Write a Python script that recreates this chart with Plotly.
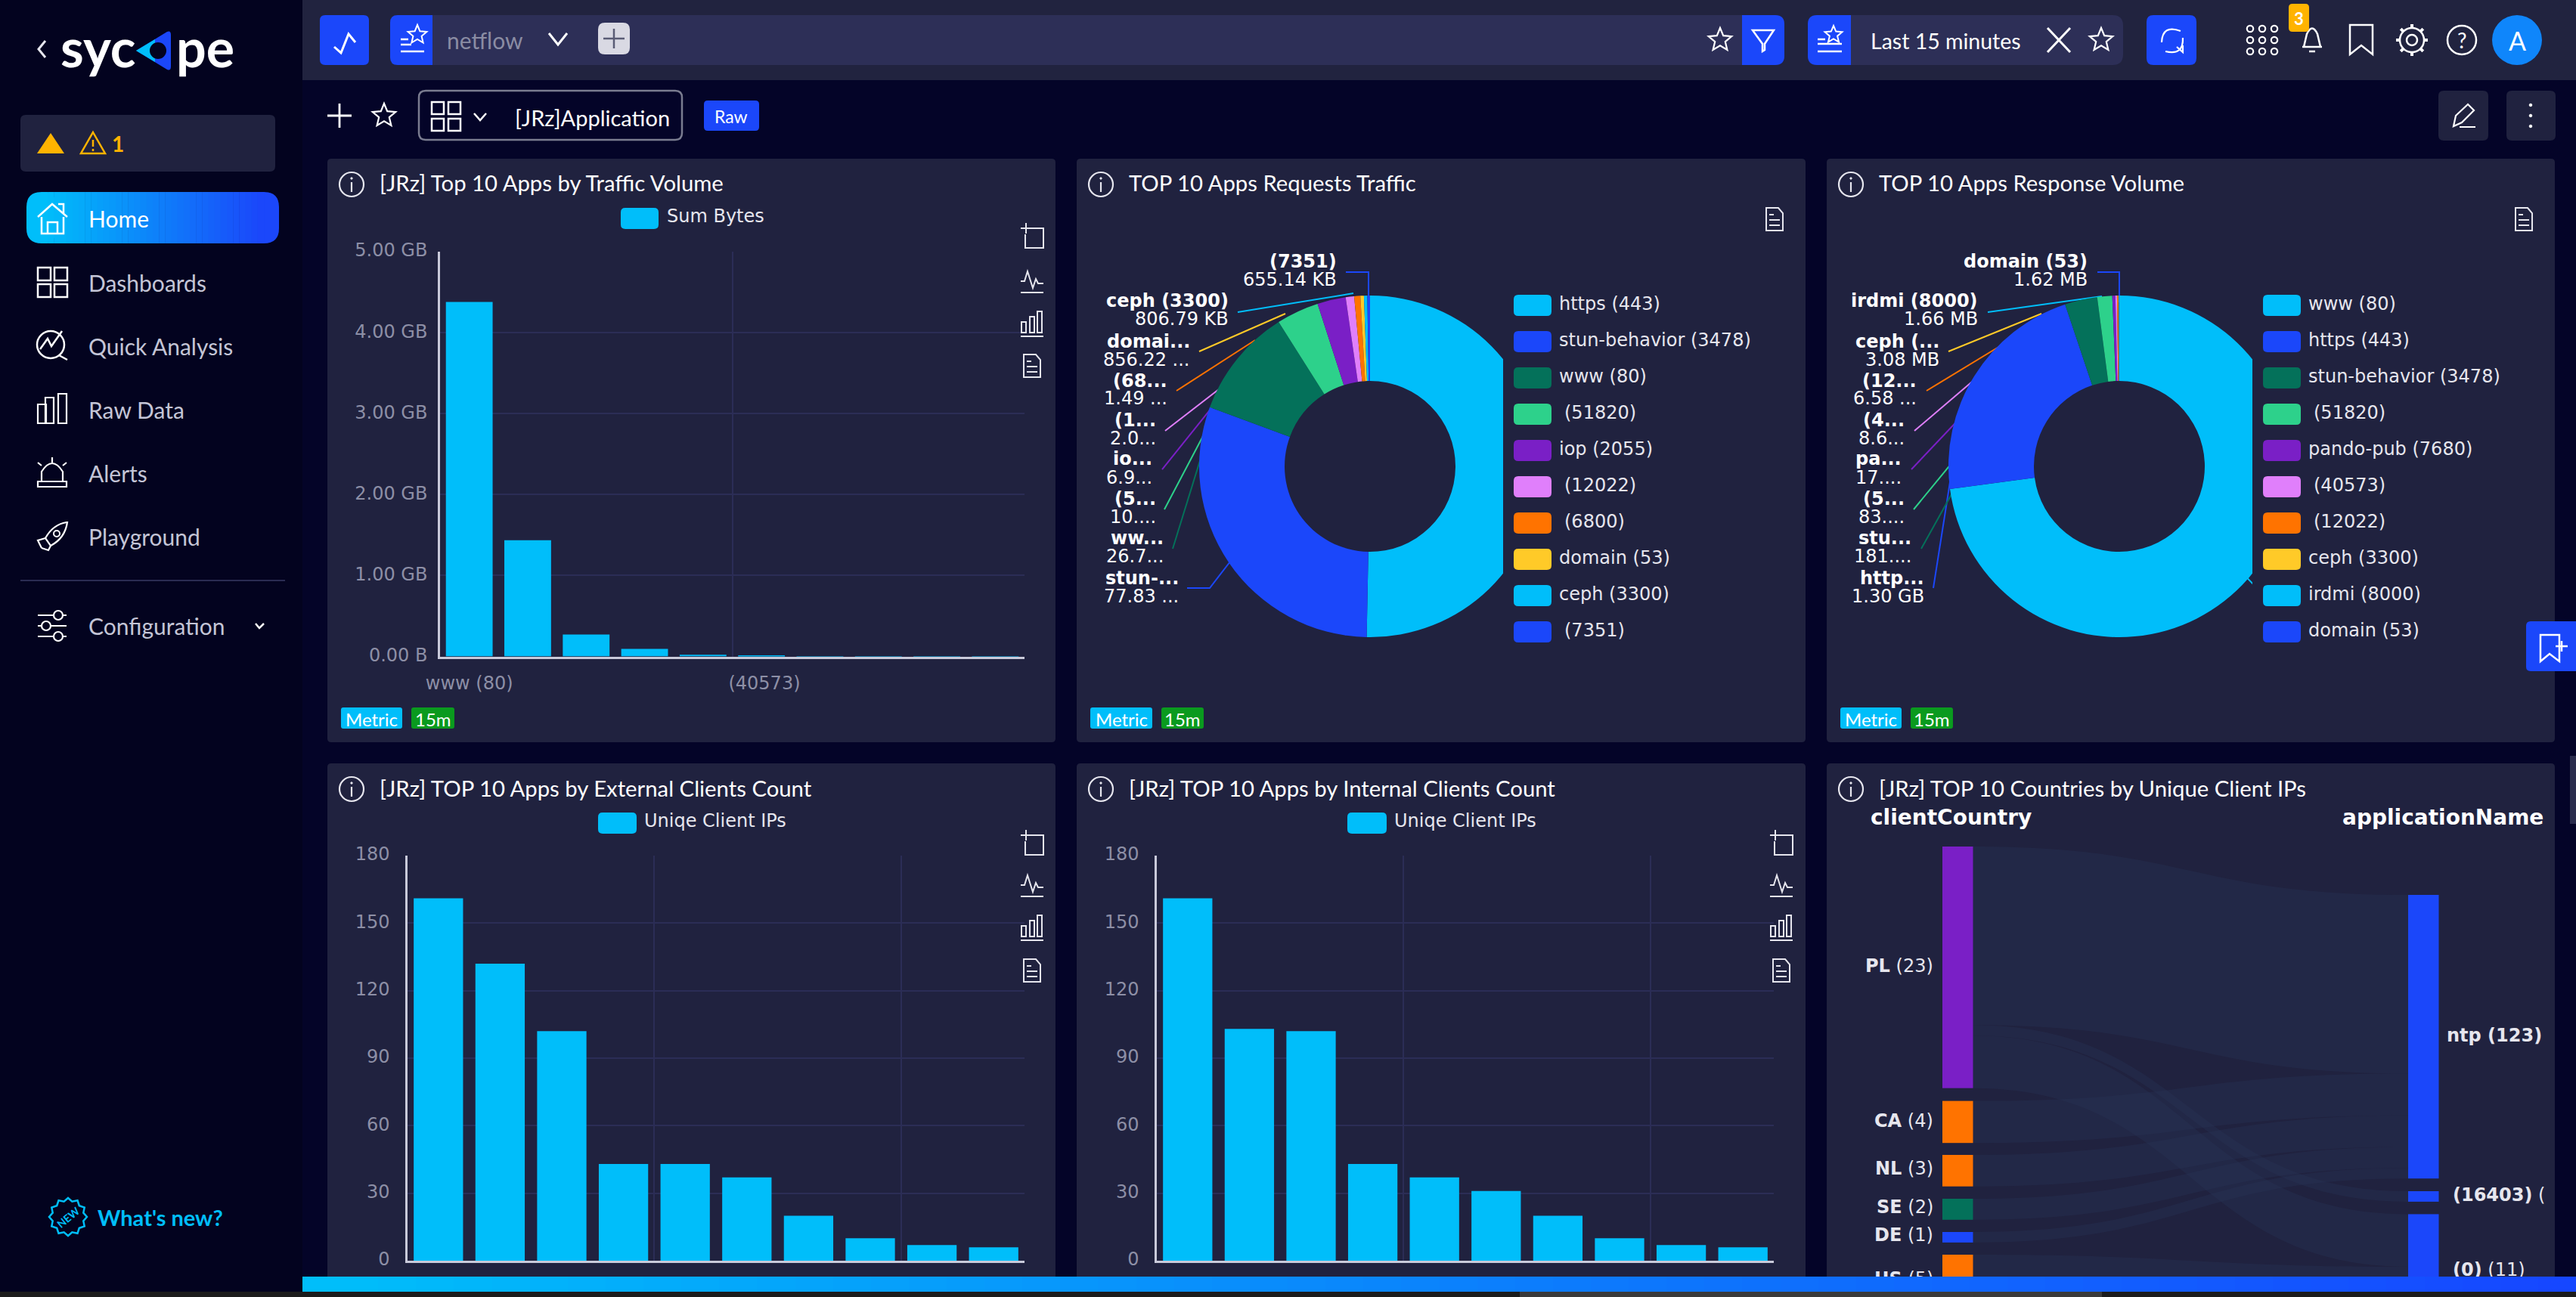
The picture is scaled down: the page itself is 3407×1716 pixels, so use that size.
import math
import re
import plotly.graph_objects as go

W, H = 3407, 1716

# --- colours ---
BG_SIDE = "#03031F"
BG_MAIN = "#040428"
BG_PANEL = "#20223F"
BG_INPUT = "#2D2F57"
CYAN = "#00BEFA"
BLUE = "#1B47FA"
GREEN = "#04715A"
MINT = "#2DD18B"
PURPLE = "#7A1FC6"
PINK = "#E07FFB"
ORANGE = "#FF7300"
YELLOW = "#FFCA28"
AMBER = "#FFB300"
GRID = "#2B2D56"
AXIS = "#C9CADA"
TICK = "#8D8FA6"
ICON = "#E6E6EE"
SLICE_COLORS = [CYAN, BLUE, GREEN, MINT, PURPLE, PINK, ORANGE, YELLOW, CYAN, BLUE]

UI_FONT = "Lato"
CHART_FONT = "DejaVu Sans"

# --- data ---
traffic_apps = ["www (80)", "https (443)", "stun-behavior (3478)", " (51820)", "pando-pub (7680)",
                " (40573)", " (12022)", "ceph (3300)", "irdmi (8000)", "domain (53)"]
traffic_gb = [4.38, 1.435, 0.27, 0.094, 0.02, 0.006, 0.004, 0.003, 0.002, 0.001]
traffic_ticks = [0, 1, 2, 3, 4, 5]
traffic_ticktext = ["0.00 B", "1.00 GB", "2.00 GB", "3.00 GB", "4.00 GB", "5.00 GB"]

request_apps = ["https (443)", "stun-behavior (3478)", "www (80)", " (51820)", "iop (2055)",
                " (12022)", " (6800)", "domain (53)", "ceph (3300)", " (7351)"]
request_mb = [129.2, 77.83, 26.7, 10.3, 6.9, 2.05, 1.49, 0.856, 0.807, 0.655]
request_short = [("stun-...", "77.83 ..."), ("ww...", "26.7..."), ("(5...", "10...."), ("io...", "6.9..."),
                 ("(1...", "2.0..."), ("(68...", "1.49 ..."), ("domai...", "856.22 ..."),
                 ("ceph (3300)", "806.79 KB"), ("(7351)", "655.14 KB")]

response_apps = ["www (80)", "https (443)", "stun-behavior (3478)", " (51820)", "pando-pub (7680)",
                 " (40573)", " (12022)", "ceph (3300)", "irdmi (8000)", "domain (53)"]
response_mb = [4310, 1300, 181.5, 83.5, 17.5, 8.6, 6.58, 3.08, 1.66, 1.62]
response_short = [("http...", "1.30 GB"), ("stu...", "181...."), ("(5...", "83...."), ("pa...", "17...."),
                  ("(4...", "8.6..."), ("(12...", "6.58 ..."), ("ceph (...", "3.08 MB"),
                  ("irdmi (8000)", "1.66 MB"), ("domain (53)", "1.62 MB")]

client_ticks = [0, 30, 60, 90, 120, 150, 180]
external_clients = [161, 132, 102, 43, 43, 37, 20, 10, 7, 6]
internal_clients = [161, 103, 102, 43, 37, 31, 20, 10, 7, 6]

country_nodes = ["PL", "CA", "NL", "SE", "DE", "US", "GB", "ntp (123)", "(16403)", "(0)"]
node_colors = [PURPLE, ORANGE, ORANGE, GREEN, BLUE, ORANGE, BLUE, BLUE, BLUE, BLUE]
link_source = [0, 0, 0, 1, 2, 3, 4, 5, 6]
link_target = [7, 8, 9, 7, 7, 7, 7, 9, 9]
link_value = [17, 1, 5, 4, 3, 2, 1, 5, 1]


# --- pixel helpers: everything on the page is placed in screenshot pixels ---
shapes = []
annots = []


def fx(x):
    return x / W


def fy(y):
    return 1 - y / H


def conv(d):
    i = [0]

    def rep(m):
        v = float(m.group(0))
        i[0] += 1
        return f"{fx(v):.5f}" if i[0] % 2 == 1 else f"{fy(v):.5f}"

    return re.sub(r"-?\d+\.?\d*", rep, d)


def path(d, fill=None, line=None, width=2.5, layer="above"):
    shapes.append(dict(type="path", xref="paper", yref="paper", path=conv(d), layer=layer,
                       fillcolor=fill or "rgba(0,0,0,0)",
                       line=dict(color=line or "rgba(0,0,0,0)", width=width if line else 0)))


def rect(x0, y0, x1, y1, fill, layer="below"):
    shapes.append(dict(type="rect", xref="paper", yref="paper", x0=fx(x0), x1=fx(x1), y0=fy(y0), y1=fy(y1),
                       fillcolor=fill, line=dict(width=0), layer=layer))


def rr_path(x0, y0, x1, y1, r):
    return (f"M {x0+r} {y0} L {x1-r} {y0} Q {x1} {y0} {x1} {y0+r} L {x1} {y1-r} Q {x1} {y1} {x1-r} {y1} "
            f"L {x0+r} {y1} Q {x0} {y1} {x0} {y1-r} L {x0} {y0+r} Q {x0} {y0} {x0+r} {y0} Z")


def rrect(x0, y0, x1, y1, r, fill=None, line=None, width=2.5, layer="above"):
    path(rr_path(x0, y0, x1, y1, r), fill, line, width, layer)


def circle(cx, cy, r, fill=None, line=ICON, width=2.5):
    shapes.append(dict(type="circle", xref="paper", yref="paper", x0=fx(cx-r), x1=fx(cx+r), y0=fy(cy+r), y1=fy(cy-r),
                       fillcolor=fill or "rgba(0,0,0,0)", line=dict(color=line or "rgba(0,0,0,0)", width=width if line else 0),
                       layer="above"))


def text(x, y, s, size=24, color="white", anchor="left", font=CHART_FONT, angle=0):
    annots.append(dict(xref="paper", yref="paper", x=fx(x), y=fy(y), text=s, showarrow=False, xanchor=anchor,
                       yanchor="middle", borderpad=0, textangle=angle, font=dict(size=size, color=color, family=font)))


def lerp(c0, c1, t):
    a = [int(c0[i:i+2], 16) for i in (1, 3, 5)]
    b = [int(c1[i:i+2], 16) for i in (1, 3, 5)]
    return "rgb(%d,%d,%d)" % tuple(round(p + (q - p) * t) for p, q in zip(a, b))


def star(cx, cy, r, line=ICON, width=2.5):
    pts = []
    for k in range(10):
        a = -math.pi / 2 + k * math.pi / 5
        rad = r if k % 2 == 0 else r * 0.45
        pts.append((cx + rad * math.cos(a), cy + rad * math.sin(a)))
    path("M " + " L ".join(f"{p:.1f} {q:.1f}" for p, q in pts) + " Z", None, line, width)


def info_icon(cx, cy):
    circle(cx, cy, 16, None, ICON, 2.2)
    path(f"M {cx} {cy-3} L {cx} {cy+10}", None, ICON, 2.2)
    circle(cx, cy-8, 1.2, ICON, ICON, 1)


def doc_icon(cx, cy):
    path(f"M {cx-11} {cy-15} L {cx+5} {cy-15} L {cx+11} {cy-8} L {cx+11} {cy+15} L {cx-11} {cy+15} Z", None, ICON, 2)
    for dy, x1 in ((-6, cx-1), (1, cx+7), (8, cx+7)):
        path(f"M {cx-7} {cy+dy} L {x1} {cy+dy}", None, ICON, 2)


def toolbox(cx, ys):
    y = ys[0]
    path(f"M {cx-4} {y-13} L {cx+15} {y-13} L {cx+15} {y+13} L {cx-9} {y+13} L {cx-9} {y-5}", None, ICON, 2)
    path(f"M {cx-15} {y-13} L {cx-1} {y-13} M {cx-8} {y-20} L {cx-8} {y-6}", None, ICON, 2)
    y = ys[1]
    path(f"M {cx-15} {y} L {cx-10} {y} L {cx-6} {y-13} L {cx+1} {y+9} L {cx+5} {y-3} L {cx+8} {y+3} L {cx+15} {y+3}", None, ICON, 2)
    path(f"M {cx-15} {y+15} L {cx+15} {y+15}", None, ICON, 2)
    y = ys[2]
    for x0, top in ((-14, -2), (-3, -9), (7, -16)):
        path(f"M {cx+x0} {y+top} L {cx+x0+6} {y+top} L {cx+x0+6} {y+12} L {cx+x0} {y+12} Z", None, ICON, 2)
    path(f"M {cx-15} {y+17} L {cx+15} {y+17}", None, ICON, 2)
    doc_icon(cx, ys[3])


def badges(x0, x1, x2, x3, y0=936, y1=964):
    rrect(x0, y0, x1, y1, 3, CYAN)
    text((x0+x1)/2, (y0+y1)/2+1, "Metric", 24, "white", "center", UI_FONT)
    rrect(x2, y0, x3, y1, 3, "#0A9A1E")
    text((x2+x3)/2, (y0+y1)/2+1, "15m", 24, "white", "center", UI_FONT)


# --- page furniture ---
rect(0, 0, 400, H, BG_SIDE)
rect(400, 0, W, 106, "#21233F")
for x0, y0, x1, y1 in [(433, 210, 1396, 982), (1424, 210, 2388, 982), (2416, 210, 3379, 982),
                       (433, 1010, 1396, 1716), (1424, 1010, 2388, 1716), (2416, 1010, 3379, 1716)]:
    rrect(x0, y0, x1, y1, 5, BG_PANEL, layer="below")
rect(3399, 1000, 3407, 1090, "#2A2C4D")

# sidebar
path("M 60 54 L 51 65 L 60 76", None, ICON, 3)
text(79, 62, "<b>syc</b>", 70, "white", "left", UI_FONT)
text(232, 62, "<b>pe</b>", 70, "white", "left", UI_FONT)
path("M 180 67 L 221 42 Q 226 40 226 46 L 226 88 Q 226 94 221 92 Z", BLUE)
path("M 180 67 L 205 52 L 205 82 Z", CYAN)
circle(209, 67, 11, BG_SIDE, None)
rrect(27, 152, 364, 227, 7, BG_PANEL)
path("M 67 176 L 85 203 L 49 203 Z", AMBER)
path("M 123 175 L 139 203 L 107 203 Z", None, AMBER, 2.5)
path("M 123 185 L 123 194 M 123 197 L 123 200", None, AMBER, 2.5)
text(147, 190, "<b>1</b>", 28, AMBER, "left", UI_FONT)
# Home pill with a horizontal gradient
rrect(35, 254, 75, 322, 20, CYAN)
rrect(329, 254, 369, 322, 20, BLUE)
for k in range(36):
    x0 = 55 + k * (349 - 55) / 36
    rect(x0, 254, x0 + (349 - 55) / 36 + 0.5, 322, lerp(CYAN, BLUE, k / 35), layer="above")
NAV = [("Home", 289, "white"), ("Dashboards", 374, "#C4C5D6"), ("Quick Analysis", 458, "#C4C5D6"),
       ("Raw Data", 542, "#C4C5D6"), ("Alerts", 626, "#C4C5D6"), ("Playground", 710, "#C4C5D6"),
       ("Configuration", 828, "#C4C5D6")]
for label, y, col in NAV:
    text(116, y, label, 30, col, "left", UI_FONT)
path("M 50 287 L 69 270 L 89 287 M 77 270 L 84 270 L 84 283 M 55 287 L 55 309 L 84 309 L 84 287 M 63 309 L 63 294 L 76 294 L 76 309",
     None, "white", 2.5)


def grid4(x0, y0, s, g, width=2.5):
    for a in (0, s + g):
        for b in (0, s + g):
            path(f"M {x0+a} {y0+b} L {x0+a+s} {y0+b} L {x0+a+s} {y0+b+s} L {x0+a} {y0+b+s} Z", None, "white", width)


grid4(50, 354, 17, 5)
circle(67, 456, 18, None, "white", 2.5)
path("M 53 462 L 63 448 L 68 458 L 82 438 M 78 470 L 89 476", None, "white", 2.5)
for x0, top in ((50, 535), (60, 526), (77, 521)):
    path(f"M {x0} {top} L {x0+11} {top} L {x0+11} {560} L {x0} {560} Z", None, "white", 2.2)
path("M 55 637 L 55 624 Q 69 602 83 624 L 83 637 M 50 637 L 88 637 L 88 644 L 50 644 Z M 69 605 L 69 612 M 50 612 L 55 616 M 88 612 L 83 616", None, "white", 2.2)
path("M 88 691 Q 70 694 60 712 L 67 722 Q 86 712 89 691 Z M 60 712 L 50 715 L 55 725 M 67 722 L 64 728 L 55 725", None, "white", 2.2)
circle(75, 706, 4, None, "white", 2)
rect(27, 767, 377, 769, "#2A2C52", layer="above")
for yy, cx in ((814, 77), (828, 61), (842, 77)):
    path(f"M 50 {yy} L 88 {yy}", None, "white", 2.2)
    circle(cx, yy, 6, BG_SIDE, "white", 2.2)
path("M 338 825 L 343 831 L 349 825", None, "white", 2.5)
burst = []
for k in range(24):
    a = k * math.pi / 12
    rad = 25 if k % 2 == 0 else 21
    burst.append(f"{90+rad*math.cos(a):.1f} {1610+rad*math.sin(a):.1f}")
path("M " + " L ".join(burst) + " Z", None, CYAN, 2.5)
text(90, 1610, "<b>NEW</b>", 14, CYAN, "center", UI_FONT, angle=-40)
text(128, 1610, "<b>What's new?</b>", 29, CYAN, "left", UI_FONT)

# top bar, left side
rrect(423, 20, 488, 86, 7, BLUE)
path("M 442 62 L 451 70 L 461 45 L 470 56", None, "white", 3)
rrect(516, 20, 2360, 86, 14, BG_INPUT)
rrect(516, 20, 540, 86, 10, BLUE)
rect(530, 20, 572, 86, BLUE, layer="above")
star(552, 46, 13, "white", 2)
path("M 530 52 L 540 52 M 530 59 L 544 59 M 530 68 L 561 68", None, "white", 2.5)
text(590, 53, "netflow", 30, "#8A8CA3", "left", UI_FONT)
path("M 726 44 L 738 59 L 750 44", None, "white", 3)
rrect(791, 30, 833, 72, 9, "#D9D9E3")
path("M 812 38 L 812 64 M 798 51 L 826 51", None, "#5A5C75", 2.5)
star(2275, 53, 16, "white", 2.2)
rrect(2304, 20, 2360, 86, 12, BLUE)
rect(2304, 20, 2325, 86, BLUE, layer="above")
path("M 2318 40 L 2346 40 L 2334 58 L 2334 66 L 2331 68 L 2331 58 Z", None, "white", 2.5)
# time picker
rrect(2391, 20, 2808, 86, 14, BG_INPUT)
rrect(2391, 20, 2420, 86, 12, BLUE)
rect(2405, 20, 2448, 86, BLUE, layer="above")
star(2425, 46, 12, "white", 2)
path("M 2404 52 L 2414 52 M 2404 58 L 2436 58 M 2404 68 L 2436 68", None, "white", 2.5)
text(2473, 54, "Last 15 minutes", 28.5, "white", "left", UI_FONT)
path("M 2708 37 L 2738 69 M 2738 37 L 2708 69", None, "white", 3)
star(2779, 53, 16, "white", 2.2)
rrect(2839, 20, 2905, 86, 9, BLUE)
path("M 2884 41 Q 2860 32 2859 56 M 2864 68 Q 2888 74 2887 50 M 2879 62 L 2887 69 L 2887 60", None, "white", 2.2)
for a in (0, 1, 2):
    for b in (0, 1, 2):
        circle(2976 + a * 16, 38 + b * 15, 4.2, None, "white", 2.2)
path("M 3047 62 L 3051 45 Q 3058 30 3065 45 L 3069 62 Z M 3045 62 L 3071 62 M 3054 68 L 3062 68", None, "white", 2.5)
rrect(3027, 5, 3054, 42, 5, AMBER)
text(3040, 25, "<b>3</b>", 22, "white", "center", UI_FONT)
path("M 3108 33 L 3138 33 L 3138 72 L 3123 60 L 3108 72 Z", None, "white", 2.5)
circle(3190, 53, 7, None, "white", 2.5)
circle(3190, 53, 16, None, "white", 2.5)
for k in range(8):
    a = k * math.pi / 4
    path(f"M {3190+16*math.cos(a):.1f} {53+16*math.sin(a):.1f} L {3190+21*math.cos(a):.1f} {53+21*math.sin(a):.1f}", None, "white", 4)
circle(3256, 53, 19, None, "white", 2.5)
text(3256, 53, "?", 28, "white", "center", UI_FONT)
circle(3329, 53, 33, "#0F86FB", None)
text(3329, 54, "A", 34, "white", "center", UI_FONT)

# dashboard toolbar
path("M 449 137 L 449 169 M 433 153 L 465 153", None, "white", 2.8)
star(508, 153, 16, "white", 2.2)
rrect(554, 120, 902, 185, 9, None, "#7A7C90", 2.5)
grid4(571, 135, 16, 6)
path("M 627 150 L 635 159 L 643 150", None, "white", 2.5)
text(680, 155, "[JRz]Application", 29, "white", "left", UI_FONT)
rrect(931, 133, 1004, 173, 5, BLUE)
text(967, 154, "Raw", 23, "white", "center", UI_FONT)
rrect(3225, 120, 3291, 186, 7, BG_PANEL)
path("M 3245 167 L 3248 153 L 3264 138 L 3272 146 L 3256 162 Z M 3253 168 L 3274 168", None, "white", 2.2)
rrect(3315, 120, 3380, 186, 7, BG_PANEL)
for y in (139, 153, 167):
    circle(3347, y, 1.8, "white", "white", 1)

# panel headers
for cx, tx, y, title in [(465, 501, 242, "[JRz] Top 10 Apps by Traffic Volume"),
                         (1456, 1492, 242, "TOP 10 Apps Requests Traffic"),
                         (2448, 2484, 242, "TOP 10 Apps Response Volume"),
                         (465, 501, 1042, "[JRz] TOP 10 Apps by External Clients Count"),
                         (1456, 1492, 1042, "[JRz] TOP 10 Apps by Internal Clients Count"),
                         (2448, 2484, 1042, "[JRz] TOP 10 Countries by Unique Client IPs")]:
    info_icon(cx, y + 2)
    text(tx, y, title, 29.3, "white", "left", UI_FONT)
badges(451, 532, 544, 601)
badges(1442, 1524, 1536, 1592)
badges(2434, 2515, 2527, 2583)

# bar chart legends and tool icons
rrect(821, 275, 871, 303, 6, CYAN)
text(881, 286, "Sum Bytes", 24, "#E6E6EE")
rrect(791, 1075, 842, 1103, 6, CYAN)
text(851, 1086, "Uniqe Client IPs", 24, "#E6E6EE")
rrect(1782, 1075, 1834, 1103, 6, CYAN)
text(1843, 1086, "Uniqe Client IPs", 24, "#E6E6EE")
toolbox(1365, (315, 372, 428, 484))
toolbox(1365, (1118, 1171, 1227, 1284))
toolbox(2356, (1118, 1171, 1227, 1284))
doc_icon(2347, 290)
doc_icon(3338, 290)

fig = go.Figure()


# --- bar charts ---
def add_bar(idx, y, left, right, top, bottom, yrange, tickvals, ticktext, xticks, splits, ticklen):
    sx = "" if idx == 1 else str(idx)
    fig.add_trace(go.Bar(x=list(range(10)), y=y, marker=dict(color=CYAN, line=dict(width=0)), width=0.8,
                         hoverinfo="skip", showlegend=False, xaxis="x" + sx, yaxis="y" + sx))
    fig.update_layout(**{
        "xaxis" + sx: dict(domain=[fx(left), fx(right)], range=[-0.5, 9.5], anchor="y" + sx, showgrid=False, zeroline=False,
                           automargin=False, showline=True, linecolor=AXIS, linewidth=2.5,
                           tickmode="array", tickvals=xticks[0], ticktext=xticks[1], ticks="outside" if xticks[0] else "",
                           ticklen=12, tickcolor="rgba(0,0,0,0)", tickfont=dict(size=24, color=TICK, family=CHART_FONT),
                           minor=dict(tickmode="array", tickvals=splits, showgrid=True, gridcolor=GRID, gridwidth=2, ticks="")),
        "yaxis" + sx: dict(domain=[fy(bottom), fy(top)], range=yrange, anchor="x" + sx, showgrid=True, gridcolor=GRID, gridwidth=2,
                           automargin=False, zeroline=False, showline=True, linecolor=AXIS, linewidth=2.5,
                           tickmode="array", tickvals=tickvals, ticktext=ticktext, ticks="outside", ticklen=ticklen,
                           ticklabelshift=-2, tickcolor="rgba(0,0,0,0)", tickfont=dict(size=24, color=TICK, family=CHART_FONT)),
    })


add_bar(1, traffic_gb, 582, 1355, 333, 868.5, [0, 5], traffic_ticks, traffic_ticktext,
        ([0, 5], [traffic_apps[0], traffic_apps[5]]), [4.5, 9.5], 9)
add_bar(2, external_clients, 539, 1355, 1132, 1668, [0, 180], client_ticks, [str(v) for v in client_ticks],
        ([], []), [3.5, 7.5, 9.5], 16)
add_bar(3, internal_clients, 1530, 2346, 1132, 1668, [0, 180], client_ticks, [str(v) for v in client_ticks],
        ([], []), [3.5, 7.5, 9.5], 16)


# --- donuts ---
def add_donut(apps, values, cx, cy, r):
    fig.add_trace(go.Pie(labels=apps, values=values, hole=0.5, sort=False, direction="clockwise", rotation=0,
                         marker=dict(colors=SLICE_COLORS, line=dict(width=0)), textinfo="none", hoverinfo="skip",
                         showlegend=False, domain=dict(x=[fx(cx - r), fx(cx + r)], y=[fy(cy + r), fy(cy - r)])))


add_donut(request_apps, request_mb, 1812, 617, 226)
add_donut(response_apps, response_mb, 2803, 617, 226)

# leader lines sit under the donuts, the clip rectangles and legends over them
REQ_LINES = [("M 1570 778 L 1600 778 L 1627 743", BLUE), ("M 1551 726 L 1590 600", GREEN), ("M 1540 674 L 1600 560", MINT),
             ("M 1537 621 L 1610 530", PURPLE), ("M 1541 570 L 1625 505", PINK), ("M 1556 517 L 1660 450", ORANGE),
             ("M 1586 465 L 1700 415", YELLOW), ("M 1637 413 L 1790 388", CYAN), ("M 1780 360 L 1810 360 L 1810 400", BLUE)]
RESP_LINES = [("M 2557 778 L 2585 600", BLUE), ("M 2541 726 L 2600 620", GREEN), ("M 2531 674 L 2600 590", MINT),
              ("M 2528 621 L 2600 545", PURPLE), ("M 2532 570 L 2620 495", PINK), ("M 2548 517 L 2650 455", ORANGE),
              ("M 2577 465 L 2700 415", YELLOW), ("M 2629 413 L 2780 392", CYAN), ("M 2774 360 L 2803 360 L 2803 400", BLUE),
              ("M 2955 747 L 2985 778", CYAN)]
for d, col in REQ_LINES + RESP_LINES:
    path(d, None, col, 2, layer="below")
rect(1988, 380, 2380, 860, BG_PANEL, layer="above")
rect(2979, 380, 3338, 860, BG_PANEL, layer="above")


def donut_labels(short, rights, title_ys=(765, 712, 660, 607.5, 556, 503.5, 452, 398, 346)):
    for (name, val), xr, y in zip(short, rights, title_ys):
        text(xr, y, f"<b>{name}</b>", 24, "white", "right")
        text(xr, y + 24, val, 24, "white", "right")


donut_labels(request_short, [1560, 1540, 1530, 1525, 1530, 1545, 1575, 1626, 1769])
donut_labels(response_short, [2546, 2529, 2520, 2516, 2520, 2536, 2566, 2617, 2762])


def donut_legend(apps, x0, plain_x, lead_x):
    for k, app in enumerate(apps):
        y = 404 + 48 * k
        rrect(x0, y - 14, x0 + 50, y + 14, 6, SLICE_COLORS[k])
        text(lead_x if app.startswith(" ") else plain_x, y - 2, app.strip(), 24, "#E6E6EE")


donut_legend(request_apps, 2002, 2061, 2068)
donut_legend(response_apps, 2993, 3052, 3059)

# floating bookmark tab
rrect(3341, 822, 3420, 888, 6, BLUE)
path("M 3360 840 L 3385 840 L 3385 875 L 3372 865 L 3360 875 Z M 3380 855 L 3396 855 M 3388 848 L 3388 862", None, "white", 2.5)

# --- sankey: fixed layout, plotly takes node centres as fractions of the domain ---
SK_LEFT, SK_RIGHT, SK_TOP = 2569, 3225.5, 1120
SK_W = SK_RIGHT - SK_LEFT
SK_H = H - SK_TOP
SK_THICK = 40.5
SK_PAD = 9
node_tops = [1120, 1456.6, 1528, 1586, 1630, 1660, 1746, 1184, 1576, 1606.4]
totals = [23, 4, 3, 2, 1, 5, 1, 27, 1, 11]
k_px = (SK_H - 6 * SK_PAD) / sum(totals[:7])
node_y = [(t - SK_TOP + v * k_px / 2) / SK_H for t, v in zip(node_tops, totals)]
node_x = [SK_THICK / 2 / SK_W] * 7 + [1 - SK_THICK / 2 / SK_W] * 3
fig.add_trace(go.Sankey(
    arrangement="fixed",
    domain=dict(x=[fx(SK_LEFT), fx(SK_RIGHT)], y=[0, fy(SK_TOP)]),
    node=dict(label=[""] * len(country_nodes), color=node_colors, x=node_x, y=node_y, pad=SK_PAD, thickness=SK_THICK,
              line=dict(width=0), hoverinfo="skip"),
    link=dict(source=link_source, target=link_target, value=link_value, color="rgba(40,52,85,0.35)", hoverinfo="skip"),
))
text(2473, 1081, "<b>clientCountry</b>", 28, "white", "left")
text(3365, 1081, "<b>applicationName</b>", 28, "white", "right")
for name, num, y in [("PL", 23, 1278), ("CA", 4, 1483), ("NL", 3, 1546), ("SE", 2, 1597), ("DE", 1, 1634), ("US", 5, 1692)]:
    text(2558, y, f"<b>{name}</b> ({num})", 24, "#E6E6EE", "right")
text(3235, 1370, "<b>ntp (123)</b>", 24, "#E6E6EE")
text(3243, 1581, "<b>(16403)</b> (", 24, "#E6E6EE")
text(3243, 1680, "<b>(0)</b> (11)", 24, "#E6E6EE")


# --- bottom progress bar: annotations so it also covers labels and sankey nodes ---
def mask(x0, y0, x1, y1, col):
    annots.append(dict(xref="paper", yref="paper", x=fx(x0), y=fy(y0), text=" ", showarrow=False, xanchor="left", yanchor="top",
                       width=x1 - x0, height=y1 - y0, bgcolor=col, borderpad=0, borderwidth=0, font=dict(size=10)))


N_SEG = 60
seg = (W - 400) / N_SEG
for k in range(N_SEG):
    mask(400 + k * seg, 1689, 400 + (k + 1) * seg + 1, 1709, lerp(CYAN, "#1647FF", k / (N_SEG - 1)))
mask(0, 1709, W, 1716, "#1C1C1C")
mask(2010, 1709, 2780, 1716, "#3A3A3A")

fig.update_layout(width=W, height=H, autosize=False, template="none",
                  margin=dict(l=0, r=0, t=0, b=0, pad=0, autoexpand=False), paper_bgcolor=BG_MAIN,
                  plot_bgcolor="rgba(0,0,0,0)", bargap=0.2, shapes=shapes, annotations=annots, hovermode=False,
                  font=dict(family=CHART_FONT))

fig.write_html("out.html", config=dict(displayModeBar=False),
               post_script="document.body.style.margin='0';document.body.style.overflow='hidden';")
